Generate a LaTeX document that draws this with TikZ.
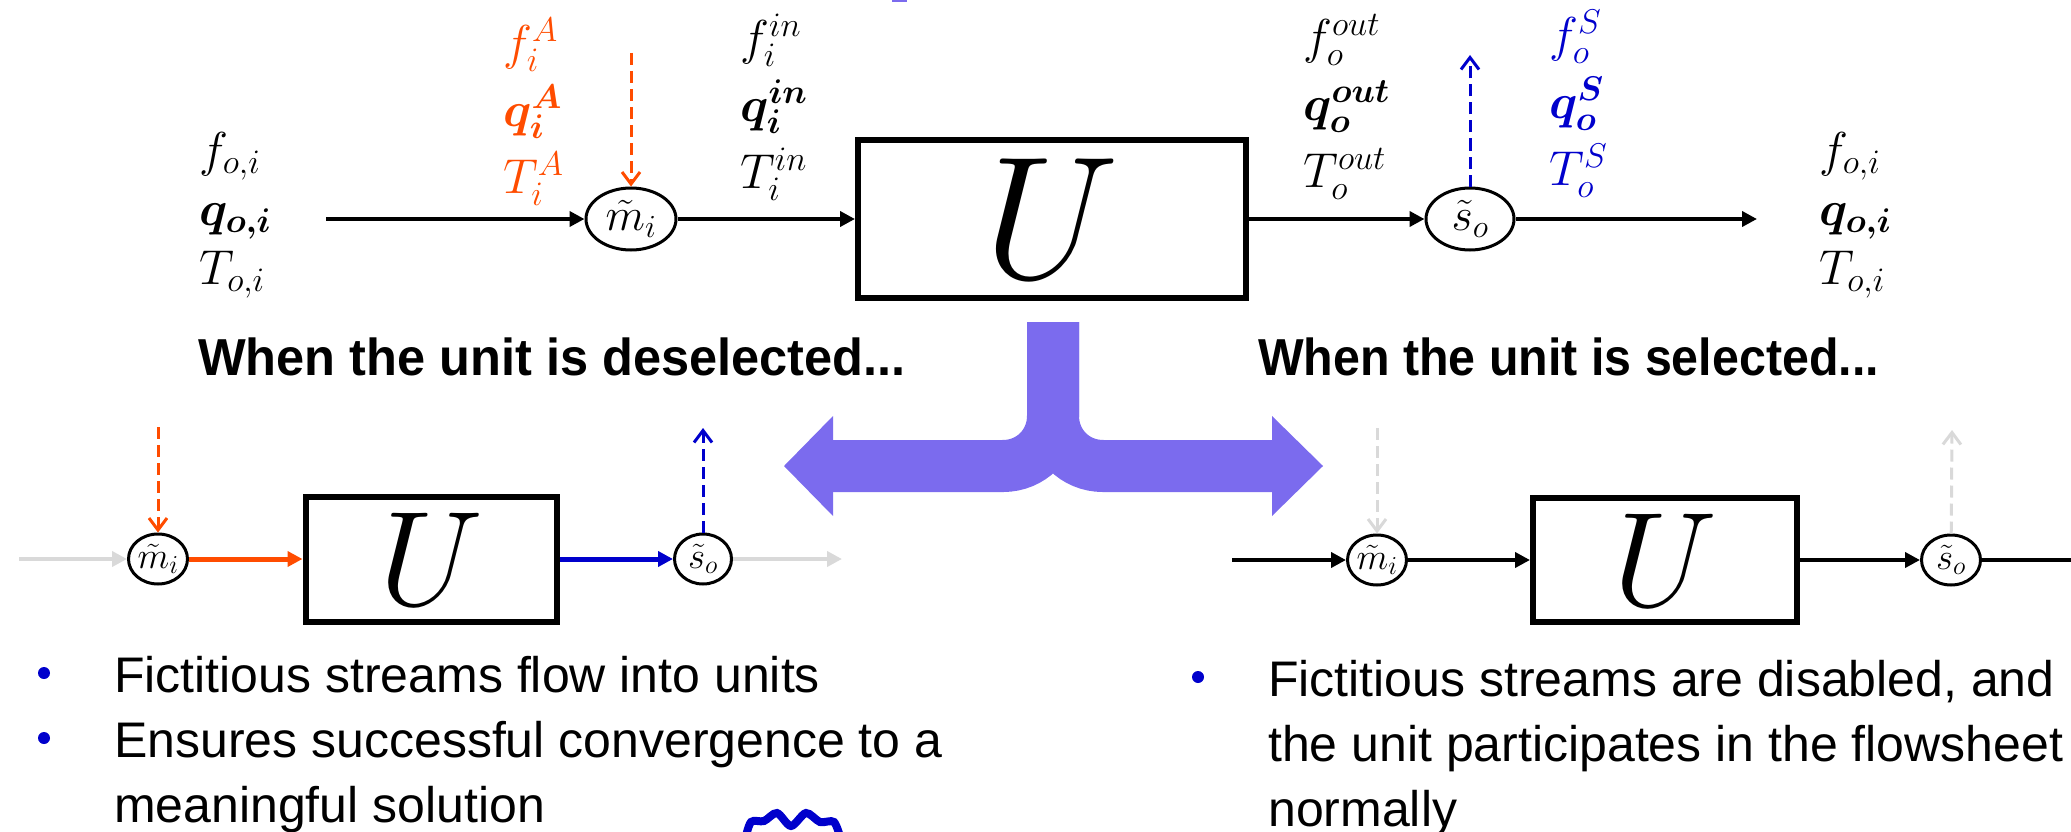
\documentclass[tikz,border=0pt]{standalone}
\usepackage{fix-cm}
\usepackage{amsmath}
\usepackage{bm}
\usepackage{fontspec}
\setmainfont{Liberation Sans}
\newfontfamily\headfont[FakeStretch=0.93]{Liberation Sans}
\usetikzlibrary{arrows.meta, positioning, shapes.geometric}
\definecolor{fictorange}{RGB}{255,76,0}
\definecolor{fictblue}{RGB}{0,0,204}
\definecolor{forkpurple}{RGB}{123,107,238}
\definecolor{offgray}{RGB}{217,217,217}
\tikzset{
  unitbox/.style={draw, line width=6pt, inner sep=0pt},
  mixer/.style={ellipse, draw, line width=3pt, inner sep=0pt},
  flow/.style={-{Triangle[length=15pt,width=15pt]}, line width=4pt},
  fict/.style={-{Straight Barb[length=12pt,width=18pt]}, line width=3pt, dash pattern=on 12pt off 6pt},
  vars/.style={align=left, inner sep=0pt, anchor=west, font=\fontsize{49}{59}\selectfont},
  topvars/.style={vars, font=\fontsize{49}{67}\selectfont},
  fork/.style={forkpurple, line width=52pt},
  headline/.style={anchor=base west, inner sep=0pt, font=\headfont\bfseries\fontsize{52}{52}\selectfont},
  note/.style={anchor=north west, align=left, inner sep=0pt, font=\fontsize{50}{65}\selectfont}
}
\begin{document}
\begin{tikzpicture}[x=1pt, y=-1pt]
\useasboundingbox (0,0) rectangle (2071,832);

% Unit with streams
\node[unitbox, minimum width=388pt, minimum height=158pt] (unit) at (1052,219) {\fontsize{175}{175}\selectfont$U$};
\node[mixer, minimum width=90pt, minimum height=62pt] (mix) at (631,219) {\fontsize{46}{46}\selectfont$\tilde{m}_i$};
\node[mixer, minimum width=88pt, minimum height=62pt] (split) at (1470,219) {\fontsize{46}{46}\selectfont$\tilde{s}_o$};
\coordinate (feed) at (326,219);
\coordinate (prod) at (1757,219);
\coordinate (addA) at (631,53);
\coordinate (takeS) at (1470,55);

\draw[flow] (feed) -- (mix);
\draw[flow] (mix) -- (unit);
\draw[flow] (unit) -- (split);
\draw[flow] (split) -- (prod);
\draw[fict, fictorange] (addA) -- (mix);
\draw[fict, fictblue] (split) -- (takeS);

% Variables
\node[vars] (feedvars) at (199,215) {$f_{o,i}$\\$\bm{q}_{\bm{o,i}}$\\$T_{o,i}$};
\node[topvars, text=fictorange] (addvars) at (503,112) {$f_i^A$\\$\bm{q_i^A}$\\$T_i^A$};
\node[topvars] (invars) at (740,107) {$f_i^{in}$\\$\bm{q_i^{in}}$\\$T_i^{in}$};
\node[topvars] (outvars) at (1303,107) {$f_o^{out}$\\$\bm{q_o^{out}}$\\$T_o^{out}$};
\node[topvars, text=fictblue] (takevars) at (1549,104) {$f_o^S$\\$\bm{q_o^S}$\\$T_o^S$};
\node[vars] (prodvars) at (1819,215) {$f_{o,i}$\\$\bm{q}_{\bm{o,i}}$\\$T_{o,i}$};

% Headlines
\node[headline] (offhead) at (198,375) {\scalebox{1.045}[1]{When the unit is deselected...}};
\node[headline] (onhead) at (1258,375) {When the unit is selected...};

% Fork arrow
\coordinate (forktop) at (1053,322);
\coordinate (forkL) at (833,466);
\coordinate (forkR) at (1272,466);
\draw[fork] (forktop) -- (1053,416) .. controls (1053,444) and (1031,466) .. (1003,466) -- (forkL);
\draw[fork] (forktop) -- (1053,416) .. controls (1053,444) and (1075,466) .. (1103,466) -- (forkR);
\fill[forkpurple] (833,416) -- (784,466) -- (833,516) -- cycle;
\fill[forkpurple] (1272,416) -- (1323,466) -- (1272,516) -- cycle;
\fill[forkpurple] (892,0) rectangle (907,2);

% Deselected
\node[unitbox, minimum width=251pt, minimum height=125pt] (unitoff) at (431,559) {\fontsize{135}{135}\selectfont$U$};
\node[mixer, minimum width=59pt, minimum height=50pt] (mixoff) at (158,559) {\fontsize{37}{37}\selectfont$\tilde{m}_i$};
\node[mixer, minimum width=57pt, minimum height=50pt] (splitoff) at (703,559) {\fontsize{37}{37}\selectfont$\tilde{s}_o$};
\coordinate (feedoff) at (19,559);
\coordinate (prodoff) at (842,559);
\coordinate (addoff) at (158,427);
\coordinate (takeoff) at (703,428);

\draw[flow, offgray] (feedoff) -- (mixoff);
\draw[flow, fictorange, line width=5pt] (mixoff) -- (unitoff);
\draw[flow, fictblue, line width=5pt] (unitoff) -- (splitoff);
\draw[flow, offgray] (splitoff) -- (prodoff);
\draw[fict, fictorange] (addoff) -- (mixoff);
\draw[fict, fictblue] (splitoff) -- (takeoff);

% Selected
\node[unitbox, minimum width=264pt, minimum height=124pt] (uniton) at (1665,560) {\fontsize{135}{135}\selectfont$U$};
\node[mixer, minimum width=59pt, minimum height=50pt] (mixon) at (1377,560) {\fontsize{37}{37}\selectfont$\tilde{m}_i$};
\node[mixer, minimum width=59pt, minimum height=50pt] (spliton) at (1951,560) {\fontsize{37}{37}\selectfont$\tilde{s}_o$};
\coordinate (feedon) at (1232,560);
\coordinate (prodon) at (2100,560);
\coordinate (addon) at (1377,428);
\coordinate (takeon) at (1952,430);

\draw[flow] (feedon) -- (mixon);
\draw[flow] (mixon) -- (uniton);
\draw[flow] (uniton) -- (spliton);
\draw[flow] (spliton) -- (prodon);
\draw[fict, offgray] (addon) -- (mixon);
\draw[fict, offgray] (spliton) -- (takeon);

% Notes
\fill[fictblue] (44,673) circle[radius=6pt];
\fill[fictblue] (44,738) circle[radius=6pt];
\fill[fictblue] (1198,677) circle[radius=6pt];
\node[note] (offnote) at (114,656) {Fictitious streams flow into units\\Ensures successful convergence to a\\meaningful solution};
\node[note] (onnote) at (1268,660) {Fictitious streams are disabled, and\\the unit participates in the flowsheet\\normally};

\draw[fictblue, line width=8pt, line cap=round] plot[smooth] coordinates {(745,840) (751,822) (764,821) (777,813) (791,826) (806,813) (820,822) (834,822) (841,840)};

\end{tikzpicture}
\end{document}
